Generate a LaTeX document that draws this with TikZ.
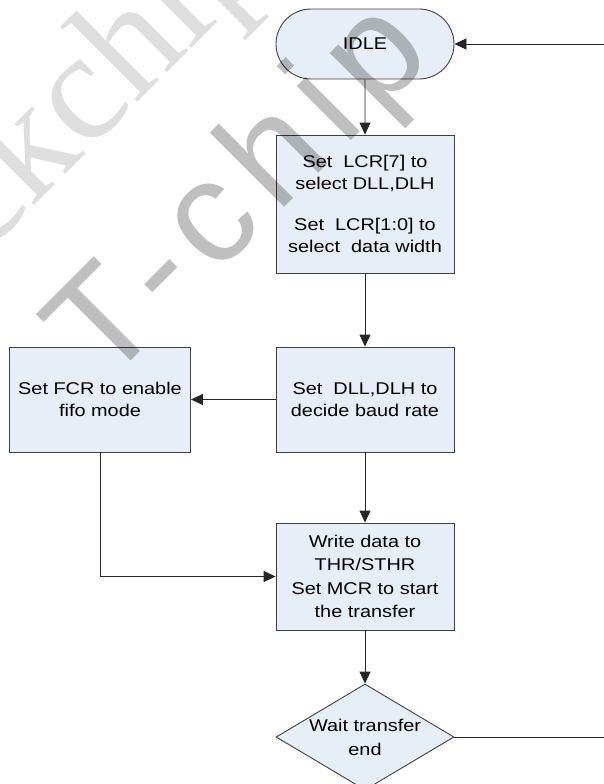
\documentclass[tikz,border=0pt]{standalone}
\usepackage{fontspec}
\setmainfont{Liberation Sans}[FakeStretch=1.17]
\newfontfamily\wmsans{Liberation Sans}
\newfontfamily\wmserif{Liberation Serif}
\usetikzlibrary{arrows.meta,shapes.misc,shapes.geometric}
\definecolor{boxfill}{RGB}{232,238,247}
\begin{document}
\begin{tikzpicture}[x=1pt,y=-1pt,
  box/.style={draw=black!75, fill=boxfill, line width=0.9pt, minimum width=178pt,
    inner sep=0pt, align=center, font=\fontsize{17}{22.5}\selectfont},
  conn/.style={line width=0.9pt, draw=black!85},
  arr/.style={conn, -{Triangle[length=12pt,width=11pt]}},
  wm/.style={rotate=45, anchor=base west, inner sep=0pt, text=black}]
\useasboundingbox (0,0) rectangle (604,784);
\clip (0,0) rectangle (604,784);
% nodes
\node[box, rounded rectangle, minimum height=70pt] (idle) at (365,44) {IDLE};
\node[box, minimum height=138pt] (lcr) at (365,204)
  {Set\ \ LCR[7] to\\select DLL,DLH\\[18pt]Set\ \ LCR[1:0] to\\select\ \ data width};
\node[box, minimum height=105pt] (dll) at (365,399.5) {Set\ \ DLL,DLH to\\decide baud rate};
\node[box, minimum height=105pt, minimum width=181pt] (fcr) at (100,399.5) {Set FCR to enable\\fifo mode};
\node[box, minimum height=107pt, font=\fontsize{17}{23.5}\selectfont] (thr) at (365,576.5)
  {Write data to\\THR/STHR\\Set MCR to start\\the transfer};
\node[diamond, draw=black!75, fill=boxfill, line width=0.9pt, minimum width=178pt,
  minimum height=106pt, inner sep=0pt] (wait) at (365,737) {};
\node[align=center, inner sep=0pt, font=\fontsize{17}{24}\selectfont] (waittext) at (wait.center) {Wait transfer\\end};
% connectors
\coordinate (inR) at (604,44);
\coordinate (outR) at (604,737);
\draw[arr] (inR) -- (idle.east);
\draw[arr] (idle) -- (lcr);
\draw[arr] (lcr) -- (dll);
\draw[arr] (dll) -- (fcr);
\draw[arr] (dll) -- (thr);
\draw[arr] (fcr.south) |- (thr.west);
\draw[arr] (thr) -- (wait);
\draw[conn] (wait.east) -- (outR);
% watermark
\node[wm, opacity=0.13, font=\wmserif\fontsize{155}{155}\selectfont] (wmB) at (-145,385) {Rockchip};
\node[wm, opacity=0.25, font=\wmsans\fontsize{145}{145}\selectfont\addfontfeature{LetterSpace=10}] (wmA) at (104,388) {T-chip};
\end{tikzpicture}
\end{document}
